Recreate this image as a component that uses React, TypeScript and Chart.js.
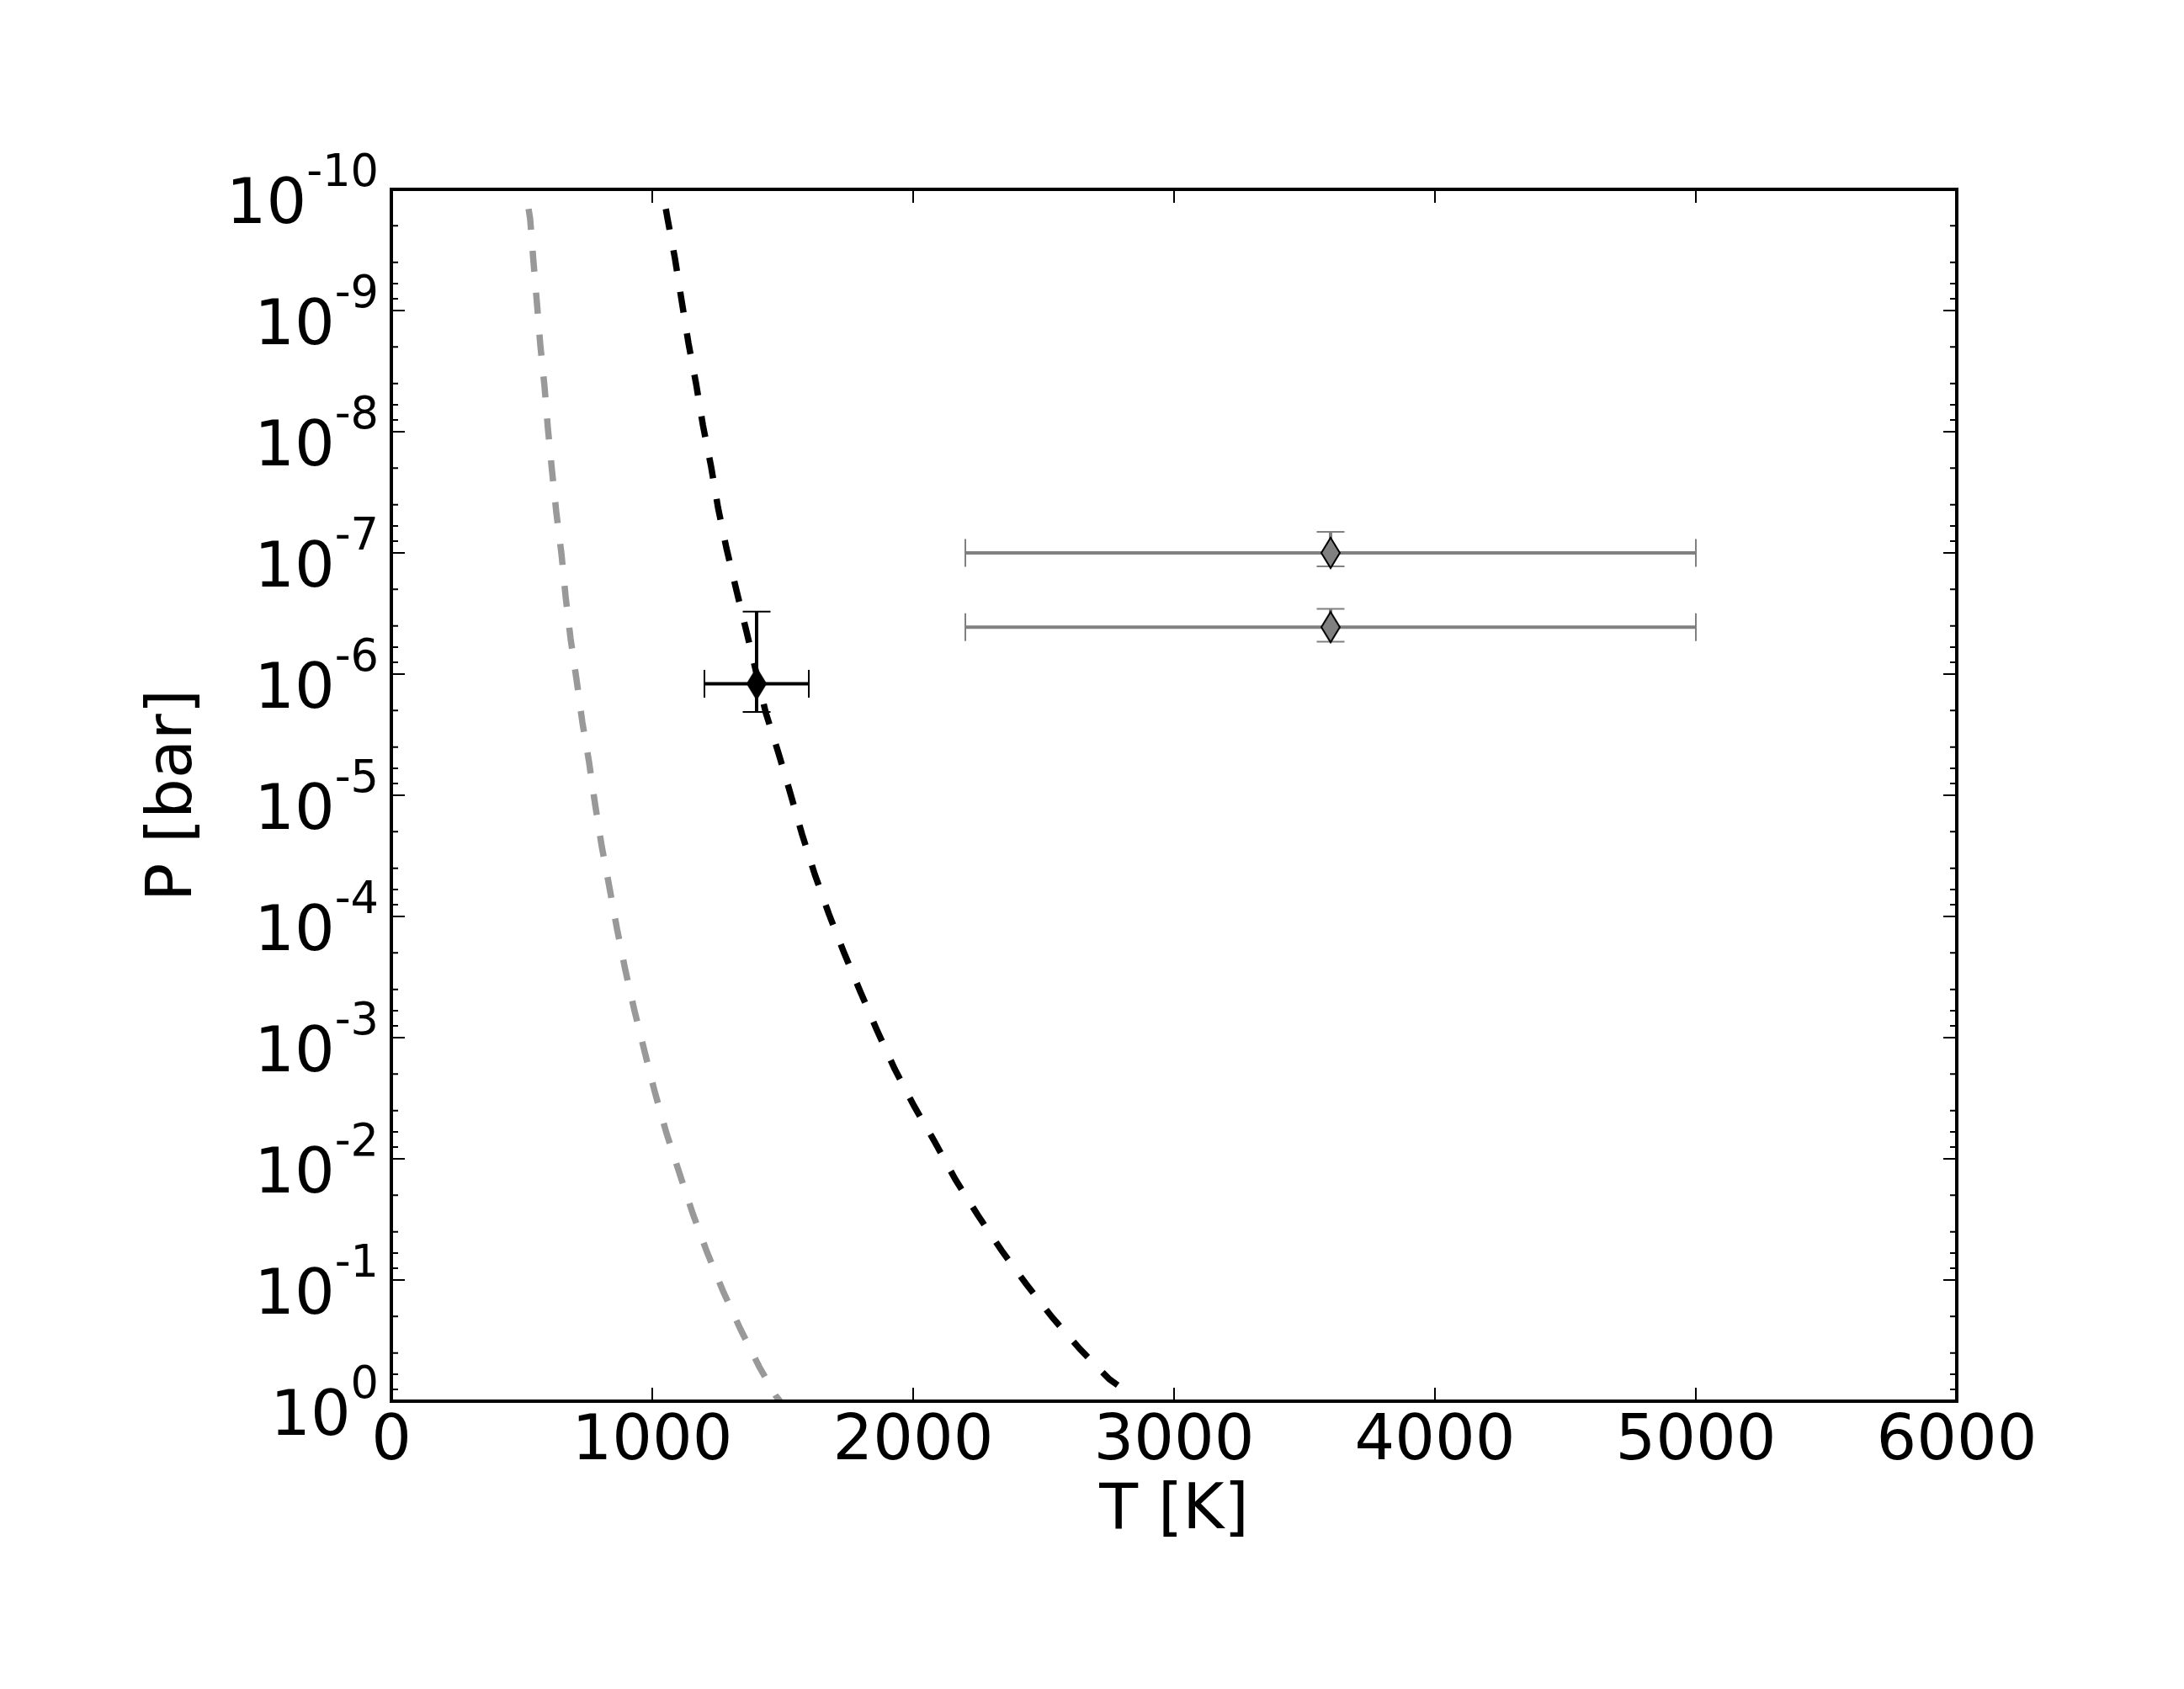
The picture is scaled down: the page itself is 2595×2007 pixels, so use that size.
import React, { useEffect, useRef } from "react";
import { Chart, registerables } from "chart.js";

Chart.register(...registerables);

const FONT = "'DejaVu Sans', 'Liberation Sans', sans-serif";

// Axis ticks
const xTickValues = [0, 1000, 2000, 3000, 4000, 5000, 6000];
const yDecadeExponents = [-10, -9, -8, -7, -6, -5, -4, -3, -2, -1, 0];
const yMinorMultipliers = [2, 4, 6, 8];

// Grey dashed P-T profile
const grayCurveT = [526, 532, 545, 558, 571, 587, 600, 616, 632, 652, 668, 687, 710, 732, 758, 781, 806, 835, 865, 897, 932, 971, 1010, 1055, 1103, 1155, 1210, 1271, 1339, 1410, 1474, 1490];
const grayCurveP = [1.45e-10, 1.75e-10, 4.02e-10, 8.66e-10, 1.93e-9, 4.22e-9, 9.38e-9, 2.12e-8, 4.57e-8, 1.02e-7, 2.3e-7, 5.11e-7, 1.12e-6, 2.49e-6, 5.36e-6, 1.19e-5, 2.61e-5, 5.62e-5, 1.27e-4, 2.78e-4, 6.0e-4, 1.31e-3, 2.82e-3, 6.19e-3, 1.29e-2, 2.82e-2, 5.9e-2, 0.123, 0.257, 0.519, 0.908, 1.0];

// Black dashed P-T profile
const blackCurveT = [1052, 1058, 1087, 1113, 1139, 1168, 1194, 1226, 1252, 1284, 1323, 1361, 1435, 1484, 1523, 1574, 1623, 1677, 1735, 1797, 1861, 1929, 2003, 2081, 2161, 2248, 2339, 2432, 2532, 2639, 2752, 2784];
const blackCurveP = [1.45e-10, 1.72e-10, 3.72e-10, 8.39e-10, 1.87e-9, 4.02e-9, 8.79e-9, 1.96e-8, 4.22e-8, 9.08e-8, 2.05e-7, 4.43e-7, 2.08e-6, 4.5e-6, 8.65e-6, 2.09e-5, 4.5e-5, 9.53e-5, 1.99e-4, 4.15e-4, 8.65e-4, 1.81e-3, 3.65e-3, 7.14e-3, 1.47e-2, 2.92e-2, 5.71e-2, 0.107, 0.202, 0.371, 0.659, 0.738];

// Black measurement with error bars
const blackObsT = [1400];
const blackObsTMin = [1200];
const blackObsTMax = [1600];
const blackObsP = [1.2e-6];
const blackObsPMin = [3.05e-7];
const blackObsPMax = [2.05e-6];

// Grey measurements with error bars
const grayObsT = [3600, 3600];
const grayObsTMin = [2200, 2200];
const grayObsTMax = [5000, 5000];
const grayObsP = [1.0e-7, 4.1e-7];
const grayObsPMin = [6.7e-8, 2.9e-7];
const grayObsPMax = [1.29e-7, 5.4e-7];

function makeDiamond(fill: string): HTMLCanvasElement {
  const c = document.createElement("canvas");
  const w = 22, h = 36, lw = 2;
  c.width = w + 2 * lw;
  c.height = h + 2 * lw;
  const ctx = c.getContext("2d")!;
  ctx.beginPath();
  ctx.moveTo(lw + w / 2, lw);
  ctx.lineTo(lw + w, lw + h / 2);
  ctx.lineTo(lw + w / 2, lw + h);
  ctx.lineTo(lw, lw + h / 2);
  ctx.closePath();
  ctx.fillStyle = fill;
  ctx.fill();
  ctx.lineWidth = lw;
  ctx.strokeStyle = "#000";
  ctx.lineJoin = "miter";
  ctx.stroke();
  return c;
}

const errorBarPlugin = {
  id: "errorBars",
  beforeDatasetDraw(chart: any, args: any) {
    const ds = chart.data.datasets[args.index] as any;
    if (!ds.errorBars) return;
    const xs = chart.scales.x;
    const ys = chart.scales.y;
    const ctx = chart.ctx as CanvasRenderingContext2D;
    ctx.save();
    ctx.strokeStyle = ds.errorColor;
    for (const d of ds.data) {
      const px = xs.getPixelForValue(d.x);
      const py = ys.getPixelForValue(d.y);
      const x0 = xs.getPixelForValue(d.xMin);
      const x1 = xs.getPixelForValue(d.xMax);
      const y0 = ys.getPixelForValue(d.yMin);
      const y1 = ys.getPixelForValue(d.yMax);
      const cap = 16.5;
      ctx.lineCap = "butt";
      ctx.lineWidth = 4;
      ctx.beginPath();
      ctx.moveTo(x0, py);
      ctx.lineTo(x1, py);
      ctx.moveTo(px, y0);
      ctx.lineTo(px, y1);
      ctx.stroke();
      ctx.lineWidth = 2;
      ctx.beginPath();
      ctx.moveTo(x0, py - cap);
      ctx.lineTo(x0, py + cap);
      ctx.moveTo(x1, py - cap);
      ctx.lineTo(x1, py + cap);
      ctx.moveTo(px - cap, y0);
      ctx.lineTo(px + cap, y0);
      ctx.moveTo(px - cap, y1);
      ctx.lineTo(px + cap, y1);
      ctx.stroke();
    }
    ctx.restore();
  },
};

const framePlugin = {
  id: "frameTicks",
  afterDraw(chart: any) {
    const ctx = chart.ctx as CanvasRenderingContext2D;
    const { left, right, top, bottom } = chart.chartArea;
    const xs = chart.scales.x;
    const ys = chart.scales.y;
    ctx.save();
    ctx.strokeStyle = "#000";
    ctx.lineWidth = 2;
    ctx.beginPath();
    const major = 16, minor = 8;
    for (const v of xTickValues) {
      const px = xs.getPixelForValue(v);
      ctx.moveTo(px, bottom);
      ctx.lineTo(px, bottom - major);
      ctx.moveTo(px, top);
      ctx.lineTo(px, top + major);
    }
    for (const e of yDecadeExponents) {
      const py = ys.getPixelForValue(Math.pow(10, e));
      ctx.moveTo(left, py);
      ctx.lineTo(left + major, py);
      ctx.moveTo(right, py);
      ctx.lineTo(right - major, py);
      if (e < 0) {
        for (const m of yMinorMultipliers) {
          const pm = ys.getPixelForValue(m * Math.pow(10, e));
          ctx.moveTo(left, pm);
          ctx.lineTo(left + minor, pm);
          ctx.moveTo(right, pm);
          ctx.lineTo(right - minor, pm);
        }
      }
    }
    ctx.stroke();
    ctx.lineWidth = 4;
    ctx.strokeRect(left, top, right - left, bottom - top);
    ctx.fillStyle = "#000";
    ctx.textBaseline = "alphabetic";
    ctx.textAlign = "left";
    for (const e of yDecadeExponents) {
      const py = ys.getPixelForValue(Math.pow(10, e));
      const sup = String(e);
      ctx.font = `52.5px ${FONT}`;
      const wSup = ctx.measureText(sup).width;
      ctx.font = `75px ${FONT}`;
      const wBase = ctx.measureText("10").width;
      const supX = left - 15 - wSup;
      const baseX = supX - wBase;
      ctx.fillText("10", baseX, py + 40);
      ctx.font = `52.5px ${FONT}`;
      ctx.fillText(sup, supX, py - 4);
    }
    ctx.restore();
  },
};

export default function App() {
  const ref = useRef<HTMLCanvasElement>(null);
  useEffect(() => {
    const canvas = ref.current!;
    const grayMarker = makeDiamond("#808080");
    const blackMarker = makeDiamond("#000000");
    const chart = new Chart(canvas, {
      type: "scatter",
      data: {
        datasets: [
          {
            label: "grey profile",
            data: grayCurveT.map((t, i) => ({ x: t, y: grayCurveP[i] })),
            showLine: true,
            borderColor: "#999999",
            borderWidth: 7.5,
            borderDash: [25, 25],
            pointRadius: 0,
            tension: 0,
            order: 3,
          },
          {
            label: "black profile",
            data: blackCurveT.map((t, i) => ({ x: t, y: blackCurveP[i] })),
            showLine: true,
            borderColor: "#000000",
            borderWidth: 7.5,
            borderDash: [25, 25],
            pointRadius: 0,
            tension: 0,
            order: 2,
          },
          {
            label: "grey measurements",
            data: grayObsT.map((t, i) => ({
              x: t,
              y: grayObsP[i],
              xMin: grayObsTMin[i],
              xMax: grayObsTMax[i],
              yMin: grayObsPMin[i],
              yMax: grayObsPMax[i],
            })),
            pointStyle: grayMarker,
            pointRadius: 10,
            showLine: false,
            errorBars: true,
            errorColor: "#808080",
            order: 1,
          } as any,
          {
            label: "black measurement",
            data: blackObsT.map((t, i) => ({
              x: t,
              y: blackObsP[i],
              xMin: blackObsTMin[i],
              xMax: blackObsTMax[i],
              yMin: blackObsPMin[i],
              yMax: blackObsPMax[i],
            })),
            pointStyle: blackMarker,
            pointRadius: 10,
            showLine: false,
            errorBars: true,
            errorColor: "#000000",
            order: 0,
          } as any,
        ],
      },
      options: {
        animation: false,
        responsive: false,
        devicePixelRatio: 1,
        events: [],
        layout: { padding: { left: 0, right: 270, top: 225, bottom: 0 } },
        plugins: {
          legend: { display: false },
          tooltip: { enabled: false },
        },
        scales: {
          x: {
            type: "linear",
            position: "bottom",
            min: 0,
            max: 6000,
            grid: { display: false, drawTicks: false },
            border: { display: false },
            afterBuildTicks: (s: any) => {
              s.ticks = xTickValues.map((v) => ({ value: v }));
            },
            afterFit: (s: any) => {
              s.height = 342;
            },
            ticks: {
              font: { family: FONT, size: 75 },
              color: "#000",
              padding: 5,
              maxRotation: 0,
              autoSkip: false,
              callback: (v: any) => String(v),
            },
            title: {
              display: true,
              text: "T [K]",
              font: { family: FONT, size: 75 },
              color: "#000",
              padding: { top: 0, bottom: 165 },
            },
          },
          y: {
            type: "logarithmic",
            min: 1e-10,
            max: 1,
            reverse: true,
            grid: { display: false, drawTicks: false },
            border: { display: false },
            ticks: { display: false },
            afterFit: (s: any) => {
              s.width = 465;
            },
            title: {
              display: true,
              text: "P [bar]",
              font: { family: FONT, size: 75 },
              color: "#000",
              padding: { top: 163, bottom: 0 },
            },
          },
        },
      },
      plugins: [errorBarPlugin, framePlugin],
    } as any);
    return () => chart.destroy();
  }, []);
  return (
    <div style={{ position: "absolute", left: 0, top: 0, width: 2595, height: 2007, background: "#fff" }}>
      <canvas ref={ref} width={2595} height={2007} style={{ display: "block", width: 2595, height: 2007 }} />
    </div>
  );
}
